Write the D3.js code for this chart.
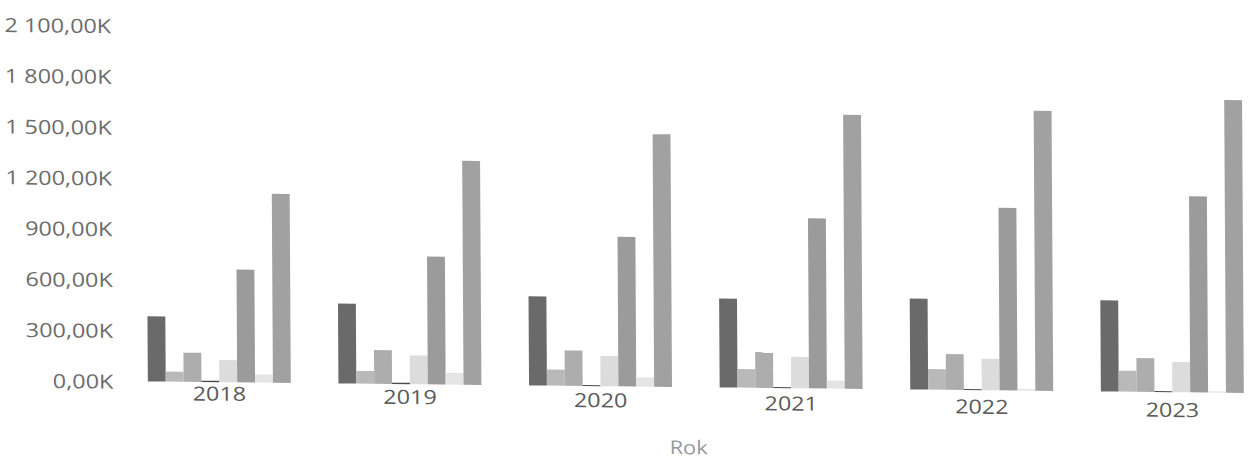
<!DOCTYPE html>
<html>
<head>
<meta charset="utf-8">
<script src="https://cdn.jsdelivr.net/npm/d3@7"></script>
<style>
  html, body { margin: 0; padding: 0; background: #fff; }
  svg { display: block; }
</style>
</head>
<body>
<svg id="chart" width="1251" height="459"></svg>
<script>
// ---- data (values in thousands) ----
const years = ["2018", "2019", "2020", "2021", "2022", "2023"];
const seriesNames = ["S1", "S2", "S3", "S4", "S5", "S6", "S7", "S8"];
const s1 = [385, 472, 527, 525, 537, 539];
const s2 = [60, 75, 95, 110, 122, 124];
const s3 = [172, 200, 209, 211, 211, 199];
const s4 = [8, 8, 6, 6, 6, 6];
const s5 = [131, 170, 179, 185, 185, 179];
const s6 = [667, 755, 884, 1005, 1079, 1158];
const s7 = [48, 70, 55, 47, 10, 8];
const s8 = [1116, 1323, 1492, 1618, 1654, 1729];
const yTicks = [0, 300, 600, 900, 1200, 1500, 1800, 2100];
const xTitle = "Rok";

const seriesValues = [s1, s2, s3, s4, s5, s6, s7, s8];
const colors = ["#6a6a6a", "#b9b9b9", "#adadad", "#4a4a4a", "#dcdcdc", "#9b9b9b", "#e4e4e4", "#a1a1a1"];

const svg = d3.select("#chart");
// slight skew of the scanned page
const g = svg.append("g").attr("transform", "matrix(1,0.0105,0.006,1,0,0)");

const y = d3.scaleLinear().domain([0, 2100]).range([379.9, 24.4]);
const x0 = d3.scaleBand().domain(years).range([126.5, 1260.6]).paddingInner(0.25).paddingOuter(0.1);
const x1 = d3.scaleBand().domain(seriesNames).range([0, x0.bandwidth()]).padding(0);

const loc = d3.formatLocale({decimal: ",", thousands: "\u00a0", grouping: [3], currency: ["", ""]});
const fmt = loc.format(",.2f");
const SX = 1.2;

// y axis (labels only)
const yAxis = d3.axisLeft(y).tickValues(yTicks).tickSize(0).tickPadding(0)
  .tickFormat(d => fmt(d).replace(/\u00a0/g, " ") + "K");
const ya = g.append("g").attr("transform", "translate(111,0)").call(yAxis);
ya.select(".domain").remove();
ya.selectAll("text")
  .attr("x", 0)
  .attr("dy", "0.36em")
  .attr("transform", `scale(${SX},1)`)
  .attr("fill", "#6c6c6c")
  .style("font-family", "'Open Sans', sans-serif")
  .style("font-size", "19.5px");

// bars
const groups = g.append("g").selectAll("g").data(years).join("g")
  .attr("transform", d => `translate(${x0(d)},0)`);
groups.selectAll("rect")
  .data((yr, i) => seriesNames.map((s, j) => ({s, j, v: seriesValues[j][i]})))
  .join("rect")
  .attr("x", d => x1(d.s))
  .attr("width", x1.bandwidth())
  .attr("y", d => y(d.v))
  .attr("height", d => y(0) - y(d.v))
  .attr("fill", d => colors[d.j]);

// x axis labels (the page curls slightly more below the bars)
const xAxis = d3.axisBottom(x0).tickSize(0).tickPadding(0);
const xa = g.append("g").attr("transform", `translate(0,${y(0)})`).call(xAxis);
xa.select(".domain").remove();
xa.selectAll(".tick").each(function(d) {
  const cx = x0(d) + x0.bandwidth() / 2;
  d3.select(this).attr("transform", `translate(${cx},${(cx - 216) * 0.0065 - 1})`);
});
xa.selectAll("text")
  .attr("y", 0)
  .attr("x", 0)
  .attr("dy", "1.0em")
  .attr("transform", `scale(${SX},1)`)
  .attr("fill", "#5a5a5a")
  .style("font-family", "'Open Sans', sans-serif")
  .style("font-size", "19.5px");

// axis title
g.append("text")
  .attr("transform", `translate(686,447) scale(1.15,1)`)
  .attr("text-anchor", "middle")
  .attr("fill", "#9a9a9a")
  .style("font-family", "'Open Sans', sans-serif")
  .style("font-size", "19px")
  .text(xTitle);
</script>
</body>
</html>
